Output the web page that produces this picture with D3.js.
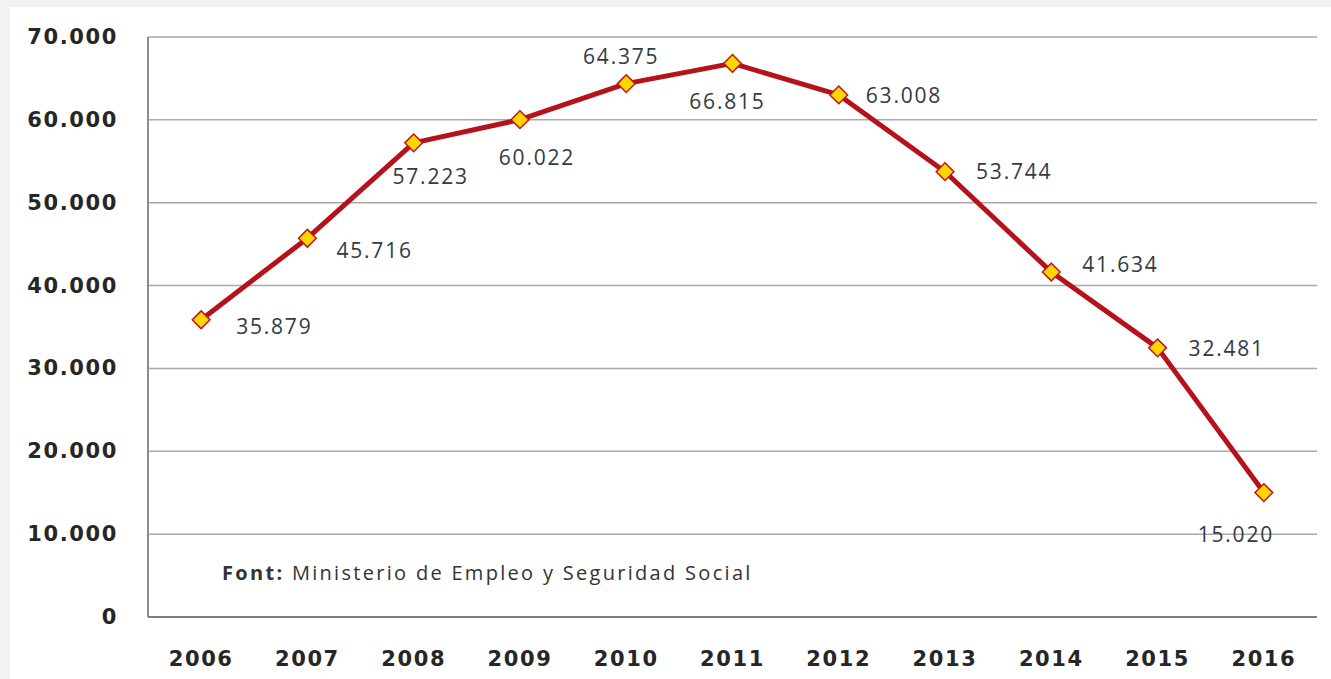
<!DOCTYPE html>
<html>
<head>
<meta charset="utf-8">
<script src="https://cdn.jsdelivr.net/npm/d3@7"></script>
<style>
  body { margin: 0; background: #f2f2f2; }
  #chart { position: absolute; left: 10px; top: 7px; width: 1321px; height: 672px; background: #fff; }
</style>
</head>
<body>
<div id="chart"></div>
<script>
const width = 1331,
    height = 679;
const margin = { top: 37, right: 14, bottom: 62, left: 148 };

const years = ["2006", "2007", "2008", "2009", "2010", "2011", "2012", "2013", "2014", "2015", "2016"];
const values = [35879, 45716, 57223, 60022, 64375, 66815, 63008, 53744, 41634, 32481, 15020];
const yTicks = [0, 10000, 20000, 30000, 40000, 50000, 60000, 70000];
const sourceBold = "Font:";
const sourceText = " Ministerio de Empleo y Seguridad Social";

// where each value label sits relative to its point (layout only)
const labelDx = [35, 29, 17, 17, -5, -5, 27, 31, 31, 31, -28];
const labelDy = [14, 20, 41, 45, -20, 46, 8, 7, 0, 8, 49];
const labelAnchor = ["start", "start", "middle", "middle", "middle", "middle", "start", "start", "start", "start", "middle"];

const fmt = v => d3.format(",")(v).replace(/,/g, ".");

const svg = d3.select("body")
    .append("svg")
    .attr("width", width)
    .attr("height", height)
    .style("position", "absolute")
    .style("left", 0)
    .style("top", 0);

const x = d3.scaleBand()
    .domain(years)
    .range([margin.left, width - margin.right]);

const y = d3.scaleLinear()
    .domain([0, 70000])
    .range([height - margin.bottom, margin.top]);

// grid lines
svg.append("g")
    .selectAll("line")
    .data(yTicks.filter(d => d > 0))
    .join("line")
    .attr("x1", margin.left)
    .attr("x2", width - margin.right)
    .attr("y1", d => y(d))
    .attr("y2", d => y(d))
    .attr("stroke", "#a9a9a9")
    .attr("stroke-width", 1.5);

// left and bottom axis lines
svg.append("line")
    .attr("x1", margin.left).attr("x2", margin.left)
    .attr("y1", y(70000)).attr("y2", y(0))
    .attr("stroke", "#8c8c8c").attr("stroke-width", 2);
svg.append("line")
    .attr("x1", margin.left).attr("x2", width - margin.right)
    .attr("y1", y(0)).attr("y2", y(0))
    .attr("stroke", "#7f7f7f").attr("stroke-width", 2);

// y tick labels
svg.append("g")
    .selectAll("text")
    .data(yTicks)
    .join("text")
    .attr("x", 118)
    .attr("y", d => y(d) + 7)
    .attr("text-anchor", "end")
    .style("font-family", "DejaVu Sans")
    .style("font-weight", "bold")
    .style("font-size", "21px")
    .style("letter-spacing", "1.6px")
    .style("fill", "#262626")
    .text(d => d === 0 ? "0" : fmt(d));

// x tick labels
svg.append("g")
    .selectAll("text")
    .data(years)
    .join("text")
    .attr("x", d => x(d) + x.bandwidth() / 2)
    .attr("y", 666)
    .attr("text-anchor", "middle")
    .style("font-family", "DejaVu Sans")
    .style("font-weight", "bold")
    .style("font-size", "21px")
    .style("letter-spacing", "1.6px")
    .style("fill", "#262626")
    .text(d => d);

const cx = (d, i) => x(years[i]) + x.bandwidth() / 2;

// the line
const line = d3.line()
    .x((d, i) => cx(d, i))
    .y(d => y(d));

svg.append("path")
    .datum(values)
    .attr("d", line)
    .attr("fill", "none")
    .attr("stroke", "#b5121b")
    .attr("stroke-width", 5)
    .attr("stroke-linejoin", "round");

// diamond markers
svg.append("g")
    .selectAll("path")
    .data(values)
    .join("path")
    .attr("d", d3.symbol().type(d3.symbolDiamond2).size(200))
    .attr("transform", (d, i) => `translate(${cx(d, i)},${y(d)})`)
    .attr("fill", "#ffd500")
    .attr("stroke", "#c0141e")
    .attr("stroke-width", 1.5);

// value labels
svg.append("g")
    .selectAll("text")
    .data(values)
    .join("text")
    .attr("x", (d, i) => cx(d, i) + labelDx[i])
    .attr("y", (d, i) => y(d) + labelDy[i])
    .attr("text-anchor", (d, i) => labelAnchor[i])
    .style("font-family", "Open Sans")
    .style("font-size", "21px")
    .style("letter-spacing", "1.8px")
    .style("fill", "#333a44")
    .text(d => fmt(d));

// source note
const src = svg.append("text")
    .attr("x", 222)
    .attr("y", 580)
    .style("font-family", "Open Sans")
    .style("font-size", "20px")
    .style("letter-spacing", "2.3px")
    .style("fill", "#333");
src.append("tspan").style("font-weight", "bold").text(sourceBold);
src.append("tspan").text(sourceText);
</script>
</body>
</html>
